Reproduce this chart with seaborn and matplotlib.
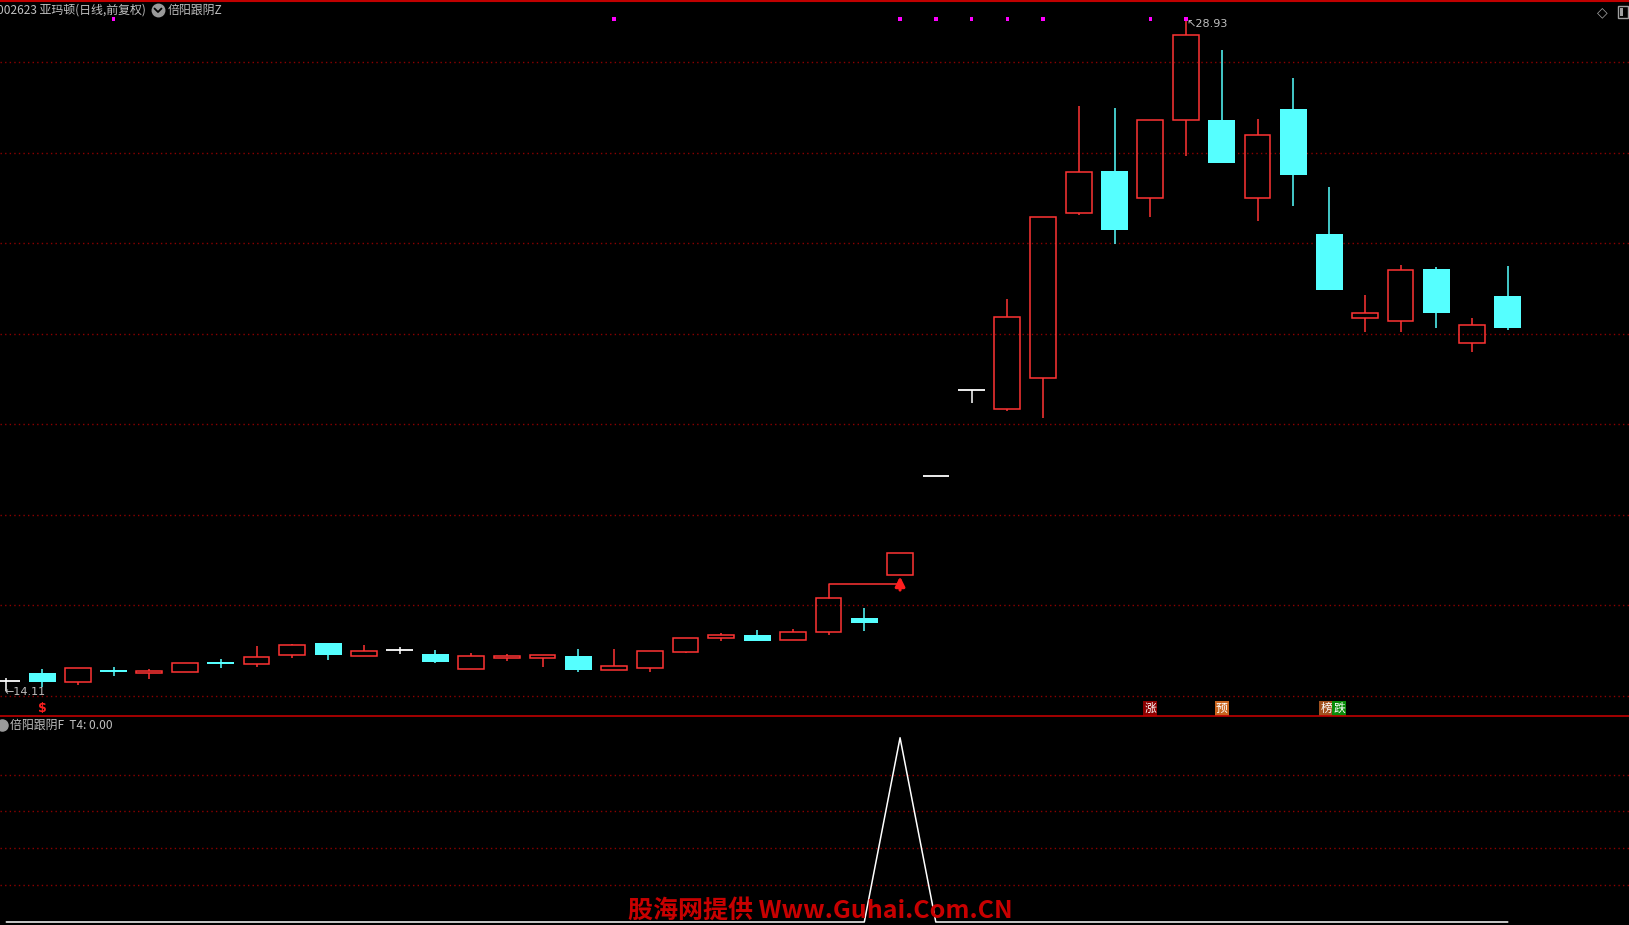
import numpy as np
import pandas as pd
import matplotlib
matplotlib.use("Agg")
import matplotlib.pyplot as plt
import seaborn as sns
from matplotlib.lines import Line2D
from matplotlib.patches import Rectangle

# daily candles, 002623 (price)
opens = [14.33, 14.51, 14.30, 14.57, 14.50, 14.54, 14.75, 14.70, 14.90, 15.17,
         14.89, 15.01, 14.93, 14.60, 14.85, 14.85, 14.88, 14.58, 14.63, 14.98,
         15.28, 15.35, 15.23, 15.41, 15.72, 16.67, 18.87, 20.75, 20.35, 21.02,
         24.66, 25.60, 24.99, 26.72, 26.72, 25.01, 26.96, 24.20, 22.35, 22.28,
         23.43, 21.80, 22.83]
highs = [14.40, 14.59, 14.61, 14.64, 14.60, 14.72, 14.82, 15.11, 15.15, 15.17,
         15.13, 15.08, 15.02, 14.95, 14.93, 14.91, 15.04, 15.04, 14.99, 15.28,
         15.39, 15.46, 15.48, 16.16, 15.94, 17.15, 18.87, 20.75, 22.77, 24.59,
         27.03, 26.99, 26.72, 28.93, 28.27, 26.74, 27.66, 25.24, 22.86, 23.52,
         23.48, 22.35, 23.50]
lows = [14.11, 14.21, 14.25, 14.45, 14.38, 14.54, 14.63, 14.65, 14.85, 14.80,
        14.89, 14.93, 14.73, 14.60, 14.77, 14.65, 14.52, 14.58, 14.52, 14.94,
        15.22, 15.22, 15.23, 15.35, 15.44, 16.67, 18.87, 20.48, 20.30, 20.15,
        24.63, 23.98, 24.59, 25.93, 25.78, 24.50, 24.83, 22.97, 22.05, 22.05,
        22.12, 21.59, 22.08]
closes = [14.33, 14.32, 14.61, 14.52, 14.55, 14.72, 14.71, 14.86, 15.12, 14.91,
          14.99, 15.01, 14.75, 14.88, 14.88, 14.91, 14.58, 14.66, 14.99, 15.28,
          15.34, 15.22, 15.41, 16.16, 15.62, 17.15, 18.87, 20.75, 22.36, 24.59,
          25.57, 24.29, 26.72, 28.61, 25.78, 26.38, 25.51, 22.97, 22.47, 23.41,
          22.47, 22.19, 22.12]

# indicator T4 (lower panel)
t4 = [0] * 43
t4[25] = 1

# top markers and signal boxes
dot_idx = [3, 17, 25, 26, 27, 28, 29, 32, 33]
dot_level = 28.95
buy_idx = 23
buy_line_level = 16.48
arrow_idx = 25
sig_labels = ["涨", "预", "榜", "跌"]
sig_idx = [32, 34, 37, 37]
sig_shift = [0, 0, -3, 10]
sig_colors = ["#8C0000", "#C8641E", "#A0501E", "#0A8C0A"]
grid_main = [14, 16, 18, 20, 22, 24, 26, 28]
grid_low = [0.2, 0.4, 0.6, 0.8]

df = pd.DataFrame({"o": opens, "h": highs, "l": lows, "c": closes})
df["i"] = np.arange(len(df))

W, H = 1629, 925
RED = "#FF3333"
CYAN = "#55FFFF"
GRID = "#8C0000"
GRAY = "#C0C0C0"

sns.set_theme(style="dark", rc={"axes.facecolor": "black", "figure.facecolor": "black"})
plt.rcParams["font.family"] = ["Noto Sans CJK SC", "DejaVu Sans"]

fig = plt.figure(figsize=(W / 100, H / 100), dpi=100)
ax = fig.add_axes([0, 209 / H, 1, 716 / H])
ax2 = fig.add_axes([0, 0, 1, 209 / H])

def fx(px):
    return px / W

def fy(py):
    return 1 - py / H

step, x0 = 35.75, 6.3
xlim = (-x0 / step, (W - x0) / step)

# ---- main panel
for p in grid_main:
    ax.axhline(p, color=GRID, lw=1, ls=(0, (1, 2.3)), zorder=0)

up = df[df.c > df.o]
dn = df[df.c < df.o]
dj = df[df.c == df.o]

ax.bar(up.i, up.c - up.o, bottom=up.o, width=0.72, fill=False,
       edgecolor=RED, linewidth=1.1, zorder=3)
ax.vlines(up.i, up.c, up.h, color=RED, lw=1.1, zorder=2)
ax.vlines(up.i, up.l, up.o, color=RED, lw=1.1, zorder=2)

ax.vlines(dn.i, dn.l, dn.h, color=CYAN, lw=1.1, zorder=2)
ax.bar(dn.i, dn.o - dn.c, bottom=dn.c, width=0.755, color=CYAN,
       linewidth=0, zorder=3)

ax.hlines(dj.o, dj.i - 0.37, dj.i + 0.37, color="white", lw=1.3, zorder=3)
ax.vlines(dj.i, dj.l, dj.h, color="white", lw=1.1, zorder=2)

# buy line and arrow
ax.plot([buy_idx, buy_idx, arrow_idx],
        [df.c[buy_idx], buy_line_level, buy_line_level], color=RED, lw=1.1, zorder=2)
ax.annotate("", xy=(arrow_idx, df.l[arrow_idx] - 0.03), xytext=(arrow_idx, df.l[arrow_idx] - 0.33),
            arrowprops=dict(arrowstyle="-|>", color="#FF1E1E", lw=2.2,
                            mutation_scale=14, shrinkA=0, shrinkB=0), zorder=4)

sns.scatterplot(x=dot_idx, y=[dot_level] * len(dot_idx), marker="s", s=6,
                color="#FF00FF", edgecolor="none", ax=ax, zorder=5)

# high / low labels
imax = int(df.h.idxmax())
imin = int(df.l.idxmin())
ax.annotate(f"↖{df.h[imax]:.2f}", xy=(imax, df.h[imax]), xytext=(0, 1),
            textcoords="offset points", ha="left", va="top", fontsize=8,
            color=GRAY, family="DejaVu Sans")
ax.annotate(f"←{df.l[imin]:.2f}", xy=(imin, df.l[imin]), xytext=(-1, -1),
            textcoords="offset points", ha="left", va="center", fontsize=8,
            color=GRAY, family="DejaVu Sans")

# signal boxes at panel bottom
for lab, i, sh, col in zip(sig_labels, sig_idx, sig_shift, sig_colors):
    ax.annotate(lab, xy=(i, 0.011), xycoords=("data", "axes fraction"),
                xytext=(sh * 0.72, 0), textcoords="offset points",
                ha="center", va="center", fontsize=8.5, color="white",
                bbox=dict(boxstyle="square,pad=0.08", fc=col, ec="none"))
ax.annotate("$", xy=(1, 0.011), xycoords=("data", "axes fraction"),
            ha="center", va="center", fontsize=9, color="#FF2020",
            weight="bold", family="DejaVu Sans")

ax.set_xlim(*xlim)
ax.set_ylim(13.559, 29.372)

# ---- lower panel
for v in grid_low:
    ax2.axhline(v, color=GRID, lw=1, ls=(0, (1, 2.3)), zorder=0)
sns.lineplot(x=df.i, y=t4, ax=ax2, color="white", lw=1.1)
ax2.set_xlim(*xlim)
ax2.set_ylim(-0.0163, 1.118)

for a in (ax, ax2):
    a.set_xticks([])
    a.set_yticks([])
    a.set_xlabel("")
    a.set_ylabel("")
    for s in a.spines.values():
        s.set_visible(False)

# frame lines
fig.add_artist(Line2D([0, 1], [fy(0.8), fy(0.8)], color="#C00000", lw=1.5))
fig.add_artist(Line2D([0, 1], [fy(716), fy(716)], color="#C00000", lw=1.2))

# header texts
fig.text(fx(-3), fy(10), "002623 亚玛顿(日线,前复权)", fontsize=8.6, color=GRAY,
         ha="left", va="center")
fig.add_artist(Line2D([fx(158)], [fy(10)], marker="o", markersize=9,
                      color="#9A9A9A", lw=0))
fig.add_artist(Line2D([fx(154.5), fx(158), fx(161.5)], [fy(8.5), fy(12), fy(8.5)],
                      color="black", lw=1.3))
fig.text(fx(168), fy(10), "倍阳跟阴Z", fontsize=8.6, color=GRAY, ha="left", va="center")

fig.text(fx(1602), fy(12), "◇", fontsize=10, color="#A0A0A0", ha="center", va="center",
         family="DejaVu Sans")
fig.add_artist(Rectangle((fx(1618), fy(18)), fx(10), 12 / H, fill=False,
                         ec="#A0A0A0", lw=1, transform=fig.transFigure))
fig.add_artist(Rectangle((fx(1620), fy(16)), fx(3), 8 / H, fc="#A0A0A0",
                         ec="none", transform=fig.transFigure))

fig.add_artist(Line2D([fx(2)], [fy(725)], marker="o", markersize=8,
                      color="#9A9A9A", lw=0))
fig.text(fx(10), fy(725), "倍阳跟阴F  T4: 0.00", fontsize=8.6, color=GRAY,
         ha="left", va="center")

# watermark
fig.text(fx(820), fy(911), "股海网提供 Www.Guhai.Com.CN", fontsize=18, weight="bold",
         color="#C80000", ha="center", va="center")

fig.savefig("out.png", dpi=100, facecolor="black")
